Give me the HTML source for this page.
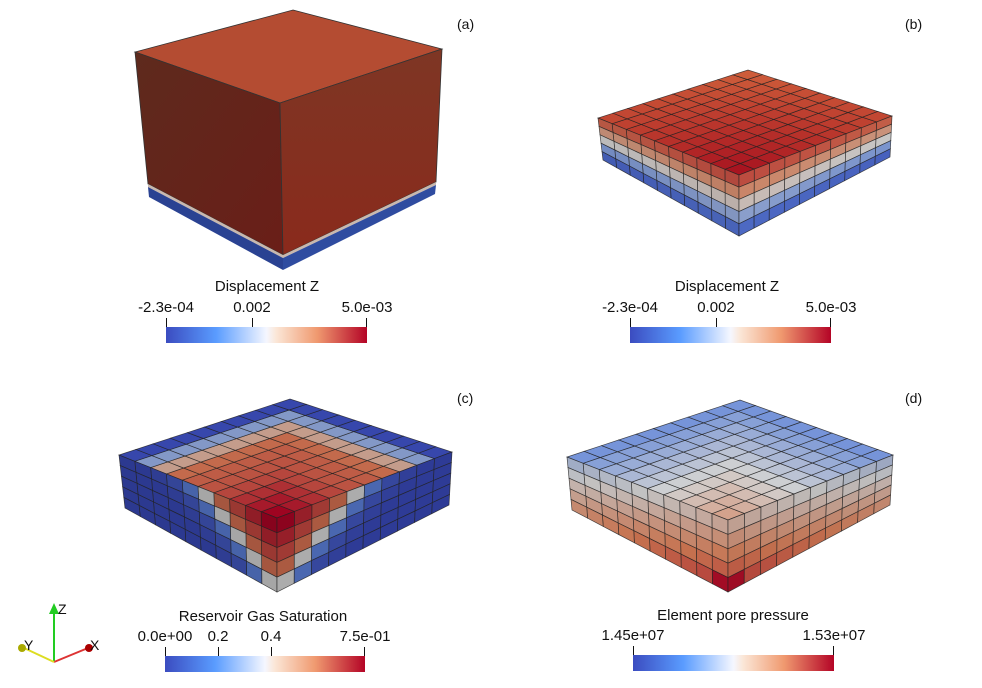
<!DOCTYPE html>
<html><head><meta charset="utf-8">
<style>
html,body{margin:0;padding:0;background:#fff;}
svg{display:block;font-family:"Liberation Sans","DejaVu Sans",sans-serif;}
</style></head>
<body>
<svg id="s" width="982" height="688" viewBox="0 0 982 688" xmlns="http://www.w3.org/2000/svg">
<defs>
<linearGradient id="cb" x1="0" x2="1" y1="0" y2="0">
<stop offset="0" stop-color="#3b4cc0"/>
<stop offset="0.25" stop-color="#5a9cff"/>
<stop offset="0.5" stop-color="#f5f7ff"/>
<stop offset="0.55" stop-color="#fbe6d6"/>
<stop offset="0.75" stop-color="#f09a70"/>
<stop offset="1" stop-color="#b40426"/>
</linearGradient>
<linearGradient id="aL" x1="0" y1="0" x2="1" y2="1">
<stop offset="0" stop-color="#5e2a1d"/><stop offset="1" stop-color="#6a1e18"/>
</linearGradient>
<linearGradient id="aR" x1="0" y1="0" x2="0" y2="1">
<stop offset="0" stop-color="#7e3624"/><stop offset="1" stop-color="#8a2a1c"/>
</linearGradient>
</defs>
<polygon points="293,10 442,49 280,103 135,52" fill="#b44c32" stroke="#333" stroke-width="0.8"/>
<polygon points="135,52 280,103 283,255 148,184" fill="url(#aL)" stroke="#333" stroke-width="0.8"/>
<polygon points="280,103 442,49 436,182 283,255" fill="url(#aR)" stroke="#333" stroke-width="0.8"/>
<polygon points="148,184 283,255 283,258 148,187" fill="#c9b8ae"/>
<polygon points="283,255 436,182 436,185 283,258" fill="#c9b8ae"/>
<polygon points="148,187 283,258 283,270 149,197" fill="#2a4292"/>
<polygon points="283,258 436,185 435,194 283,270" fill="#2f4ca0"/>
<g id="grids"></g>
<g font-size="14" fill="#111">
<text x="457" y="29">(a)</text>
<text x="905" y="29">(b)</text>
<text x="457" y="403">(c)</text>
<text x="905" y="403">(d)</text>
</g>
<g font-size="15" fill="#111">
<text x="267" y="291" text-anchor="middle">Displacement Z</text>
<text x="166" y="312" text-anchor="middle">-2.3e-04</text>
<text x="252" y="312" text-anchor="middle">0.002</text>
<text x="367" y="312" text-anchor="middle">5.0e-03</text>
<rect x="166" y="327" width="201" height="16" fill="url(#cb)"/>
<path d="M166.5 318v9M252.5 318v9M366.5 318v9" stroke="#111"/>

<text x="727" y="291" text-anchor="middle">Displacement Z</text>
<text x="630" y="312" text-anchor="middle">-2.3e-04</text>
<text x="716" y="312" text-anchor="middle">0.002</text>
<text x="831" y="312" text-anchor="middle">5.0e-03</text>
<rect x="630" y="327" width="201" height="16" fill="url(#cb)"/>
<path d="M630.5 318v9M716.5 318v9M830.5 318v9" stroke="#111"/>

<text x="263" y="621" text-anchor="middle">Reservoir Gas Saturation</text>
<text x="165" y="641" text-anchor="middle">0.0e+00</text>
<text x="218" y="641" text-anchor="middle">0.2</text>
<text x="271" y="641" text-anchor="middle">0.4</text>
<text x="365" y="641" text-anchor="middle">7.5e-01</text>
<rect x="165" y="656" width="200" height="16" fill="url(#cb)"/>
<path d="M165.5 647v9M218.5 647v9M271.5 647v9M364.5 647v9" stroke="#111"/>

<text x="733" y="620" text-anchor="middle">Element pore pressure</text>
<text x="633" y="640" text-anchor="middle">1.45e+07</text>
<text x="834" y="640" text-anchor="middle">1.53e+07</text>
<rect x="633" y="655" width="201" height="16" fill="url(#cb)"/>
<path d="M633.5 646v9M833.5 646v9" stroke="#111"/>
</g>
<g stroke-width="2">
<line x1="54" y1="662" x2="54" y2="610" stroke="#2c2"/>
<polygon points="49,614 54,603 59,614" fill="#2c2"/>
<line x1="54" y1="662" x2="88" y2="648" stroke="#d33"/>
<circle cx="89" cy="648" r="4" fill="#a00"/>
<line x1="54" y1="662" x2="24" y2="648" stroke="#dd2"/>
<circle cx="22" cy="648" r="4" fill="#aa0"/>
</g>
<g font-size="14" fill="#111"><text x="58" y="614">Z</text><text x="90" y="650">X</text><text x="24" y="650">Y</text></g>
</svg>
<script>
function lerp(a,b,t){return [a[0]+(b[0]-a[0])*t,a[1]+(b[1]-a[1])*t];}
function bil(p,u,v){return lerp(lerp(p[0],p[1],u),lerp(p[3],p[2],u),v);}
var stops=[[0,[59,76,192]],[0.25,[100,140,230]],[0.5,[221,221,221]],[0.75,[225,130,90]],[1,[180,4,38]]];
function cw(t,sh){t=Math.max(0,Math.min(1,t));for(var i=1;i<stops.length;i++){if(t<=stops[i][0]){var a=stops[i-1],b=stops[i],f=(t-a[0])/(b[0]-a[0]);var c=a[1].map(function(x,k){return Math.round((x+(b[1][k]-x)*f)*(sh||1));});return 'rgb('+c.join(',')+')';}}}
function mix(a,b,t){return 'rgb('+a.map(function(x,k){return Math.round(x+(b[k]-x)*t)}).join(',')+')';}
var g=document.getElementById('grids'),out='';
function face(p,nu,nv,fn){for(var i=0;i<nu;i++)for(var j=0;j<nv;j++){var a=bil(p,i/nu,j/nv),b=bil(p,(i+1)/nu,j/nv),c=bil(p,(i+1)/nu,(j+1)/nv),d=bil(p,i/nu,(j+1)/nv);out+='<polygon points="'+[a,b,c,d].map(function(q){return q[0].toFixed(1)+','+q[1].toFixed(1)}).join(' ')+'" fill="'+fn(i,j)+'" stroke="#222" stroke-width="0.7" stroke-opacity="0.8"/>';}}
// (b)
var B={bk:[748,70],L:[598,118],F:[739,175],R:[892,116],Lb:[603,160],Fb:[739,236],Rb:[890,157]};
face([B.F,B.L,B.bk,B.R],10,10,function(i,j){var r=Math.sqrt(i*i+j*j)/12.7;return mix([168,20,32],[205,92,58],Math.min(1,r));});
var layerB=[0.8,0.66,0.5,0.32,0.12];
face([B.F,B.L,B.Lb,B.Fb],10,5,function(i,k){return cw(layerB[k]+0.04*(1-i/10),0.85);});
face([B.F,B.R,B.Rb,B.Fb],10,5,function(i,k){return cw(layerB[k]+0.04*(1-i/10),0.9);});
// (c)
var C={bk:[290,399],L:[119,455],F:[277,518],R:[452,452],Lb:[125,508],Fb:[277,592],Rb:[449,505]};
var cv=[1,0.95,0.9,0.85,0.82,0.8,0.77,0.62,0.35,0.02];
face([C.F,C.L,C.bk,C.R],10,10,function(i,j){return cw(cv[Math.max(i,j)],0.88);});
var sv=[1,0.93,0.86,0.78,0.5,0.22,0.06,0.02,0,0,0,0,0,0,0];
face([C.F,C.L,C.Lb,C.Fb],10,5,function(i,k){return cw(sv[i+k],0.75);});
face([C.F,C.R,C.Rb,C.Fb],10,5,function(i,k){return cw(sv[i+k],0.78);});
// (d)
var D={bk:[740,400],L:[567,457],F:[728,520],R:[893,455],Lb:[572,510],Fb:[728,592],Rb:[890,505]};
face([D.F,D.L,D.bk,D.R],10,10,function(i,j){return cw(0.64-0.34*Math.max(i,j)/9,0.95);});
face([D.F,D.L,D.Lb,D.Fb],10,5,function(i,k){return cw(0.6+k*0.065-i*0.02+(i==0&&k==4?0.12:0),0.88);});
face([D.F,D.R,D.Rb,D.Fb],10,5,function(i,k){return cw(0.6+k*0.065-i*0.02+(i==0&&k==4?0.12:0),0.86);});
g.innerHTML=out;
</script>
</body></html>
